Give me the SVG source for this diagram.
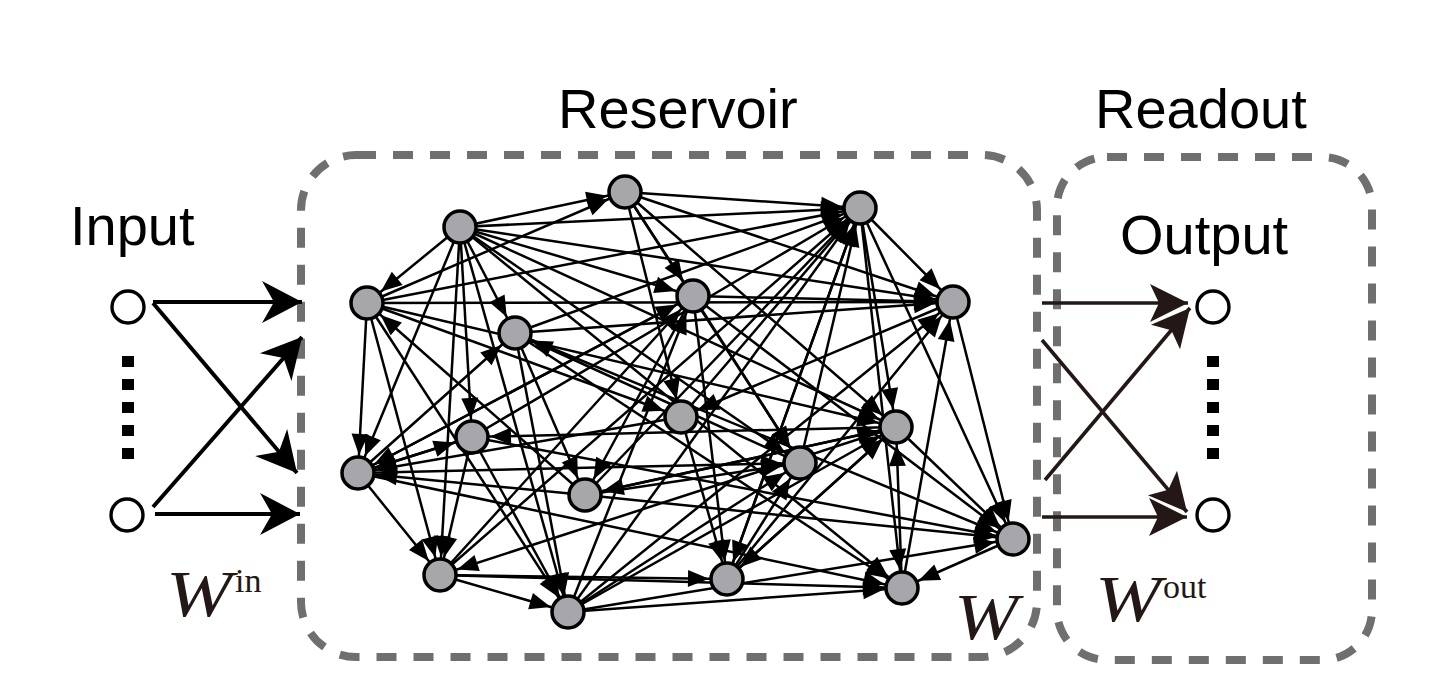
<svg xmlns="http://www.w3.org/2000/svg" width="1452" height="700" viewBox="0 0 1452 700">
<defs>
<marker id="ah" markerUnits="userSpaceOnUse" markerWidth="60" markerHeight="30" viewBox="-60 -15 60 30" refX="0" refY="0" orient="auto">
<path d="M-18,0 L-39,-8.5 L-39,8.5 Z" fill="#000"/>
</marker>
<marker id="big" markerUnits="userSpaceOnUse" markerWidth="50" markerHeight="50" viewBox="-45 -25 50 50" refX="0" refY="0" orient="auto">
<path d="M0,0 L-40,-21 L-28,0 L-40,21 Z" fill="#000"/>
</marker>
<marker id="bigo" markerUnits="userSpaceOnUse" markerWidth="50" markerHeight="50" viewBox="-45 -25 50 50" refX="0" refY="0" orient="auto">
<path d="M0,0 L-38,-19 L-29,0 L-38,19 Z" fill="#231815"/>
</marker>
</defs>
<style>
.box{fill:none;stroke:#6f6f6f;stroke-width:8;stroke-dasharray:20 17}
.e{stroke:#000;stroke-width:2.5;marker-end:url(#ah)}
.n{fill:#a7a6ab;stroke:#000;stroke-width:3.5}
.io{fill:#fff;stroke:#000;stroke-width:3.4}
.lbl{font-family:"Liberation Sans",Arial,sans-serif;font-size:56px;fill:#000}
.w{font-family:"Liberation Serif","Times New Roman",serif;font-style:italic;font-size:66px;fill:#231815}
.sup{font-family:"Liberation Serif","Times New Roman",serif;font-size:34px;fill:#231815}
.ia{stroke:#000;stroke-width:4;marker-end:url(#big)}
.oa{stroke:#231815;stroke-width:3.6;marker-end:url(#bigo)}
.dot{fill:#000}
</style>

<g id="frames">
<rect class="box" x="301" y="155" width="736" height="502" rx="55"/>
<rect class="box" x="1057" y="157" width="315" height="503" rx="50"/>
</g>

<g id="labels">
<text class="lbl" x="558" y="128">Reservoir</text>
<text class="lbl" x="1095" y="128">Readout</text>
<text class="lbl" x="70" y="245">Input</text>
<text class="lbl" x="1120" y="254">Output</text>
<text class="w" x="166" y="616" textLength="66" lengthAdjust="spacingAndGlyphs">W</text><text class="sup" x="235" y="592">in</text>
<text class="w" x="954" y="639" textLength="64" lengthAdjust="spacingAndGlyphs">W</text>
<text class="w" x="1095" y="621" textLength="66" lengthAdjust="spacingAndGlyphs">W</text><text class="sup" x="1163" y="598">out</text>
</g>

<g id="connectors">
<line class="ia" x1="153" y1="302" x2="302" y2="302"/>
<line class="ia" x1="153" y1="303" x2="297" y2="473"/>
<line class="ia" x1="153" y1="507" x2="302" y2="337"/>
<line class="ia" x1="155" y1="514" x2="300" y2="514"/>
<line class="oa" x1="1042" y1="303" x2="1188" y2="303"/>
<line class="oa" x1="1042" y1="340" x2="1187" y2="512"/>
<line class="oa" x1="1045" y1="480" x2="1190" y2="308"/>
<line class="oa" x1="1042" y1="517" x2="1187" y2="517"/>

<line class="e" x1="460" y1="227" x2="367" y2="303"/>
<line class="e" x1="460" y1="227" x2="625" y2="192"/>
<line class="e" x1="460" y1="227" x2="860" y2="208"/>
<line class="e" x1="460" y1="227" x2="515" y2="333"/>
<line class="e" x1="460" y1="227" x2="472" y2="437"/>
<line class="e" x1="460" y1="227" x2="693" y2="296"/>
<line class="e" x1="460" y1="227" x2="953" y2="302"/>
<line class="e" x1="460" y1="227" x2="896" y2="427"/>
<line class="e" x1="460" y1="227" x2="800" y2="463"/>
<line class="e" x1="460" y1="227" x2="902" y2="588"/>
<line class="e" x1="460" y1="227" x2="358" y2="473"/>
<line class="e" x1="460" y1="227" x2="440" y2="575"/>
<line class="e" x1="460" y1="227" x2="568" y2="612"/>
<line class="e" x1="625" y1="192" x2="860" y2="208"/>
<line class="e" x1="625" y1="192" x2="693" y2="296"/>
<line class="e" x1="625" y1="192" x2="953" y2="302"/>
<line class="e" x1="625" y1="192" x2="896" y2="427"/>
<line class="e" x1="625" y1="192" x2="800" y2="463"/>
<line class="e" x1="625" y1="192" x2="681" y2="417"/>
<line class="e" x1="860" y1="208" x2="953" y2="302"/>
<line class="e" x1="860" y1="208" x2="896" y2="427"/>
<line class="e" x1="860" y1="208" x2="1013" y2="539"/>
<line class="e" x1="860" y1="208" x2="902" y2="588"/>
<line class="e" x1="860" y1="208" x2="727" y2="579"/>
<line class="e" x1="367" y1="303" x2="358" y2="473"/>
<line class="e" x1="367" y1="303" x2="625" y2="192"/>
<line class="e" x1="367" y1="303" x2="860" y2="208"/>
<line class="e" x1="367" y1="303" x2="440" y2="575"/>
<line class="e" x1="367" y1="303" x2="568" y2="612"/>
<line class="e" x1="367" y1="303" x2="681" y2="417"/>
<line class="e" x1="367" y1="303" x2="896" y2="427"/>
<line class="e" x1="367" y1="303" x2="953" y2="302"/>
<line class="e" x1="693" y1="296" x2="953" y2="302"/>
<line class="e" x1="693" y1="296" x2="800" y2="463"/>
<line class="e" x1="693" y1="296" x2="1013" y2="539"/>
<line class="e" x1="693" y1="296" x2="585" y2="495"/>
<line class="e" x1="693" y1="296" x2="727" y2="579"/>
<line class="e" x1="693" y1="296" x2="358" y2="473"/>
<line class="e" x1="953" y1="302" x2="1013" y2="539"/>
<line class="e" x1="953" y1="302" x2="681" y2="417"/>
<line class="e" x1="902" y1="588" x2="953" y2="302"/>
<line class="e" x1="727" y1="579" x2="953" y2="302"/>
<line class="e" x1="515" y1="333" x2="860" y2="208"/>
<line class="e" x1="515" y1="333" x2="953" y2="302"/>
<line class="e" x1="515" y1="333" x2="568" y2="612"/>
<line class="e" x1="515" y1="333" x2="902" y2="588"/>
<line class="e" x1="515" y1="333" x2="1013" y2="539"/>
<line class="e" x1="515" y1="333" x2="585" y2="495"/>
<line class="e" x1="681" y1="417" x2="860" y2="208"/>
<line class="e" x1="681" y1="417" x2="358" y2="473"/>
<line class="e" x1="681" y1="417" x2="727" y2="579"/>
<line class="e" x1="896" y1="427" x2="472" y2="437"/>
<line class="e" x1="896" y1="427" x2="440" y2="575"/>
<line class="e" x1="896" y1="427" x2="585" y2="495"/>
<line class="e" x1="896" y1="427" x2="727" y2="579"/>
<line class="e" x1="896" y1="427" x2="1013" y2="539"/>
<line class="e" x1="472" y1="437" x2="358" y2="473"/>
<line class="e" x1="472" y1="437" x2="860" y2="208"/>
<line class="e" x1="472" y1="437" x2="440" y2="575"/>
<line class="e" x1="472" y1="437" x2="1013" y2="539"/>
<line class="e" x1="472" y1="437" x2="568" y2="612"/>
<line class="e" x1="358" y1="473" x2="472" y2="437"/>
<line class="e" x1="358" y1="473" x2="693" y2="296"/>
<line class="e" x1="358" y1="473" x2="800" y2="463"/>
<line class="e" x1="358" y1="473" x2="902" y2="588"/>
<line class="e" x1="358" y1="473" x2="440" y2="575"/>
<line class="e" x1="358" y1="473" x2="515" y2="333"/>
<line class="e" x1="800" y1="463" x2="515" y2="333"/>
<line class="e" x1="800" y1="463" x2="860" y2="208"/>
<line class="e" x1="585" y1="495" x2="367" y2="303"/>
<line class="e" x1="585" y1="495" x2="358" y2="473"/>
<line class="e" x1="585" y1="495" x2="860" y2="208"/>
<line class="e" x1="585" y1="495" x2="896" y2="427"/>
<line class="e" x1="585" y1="495" x2="800" y2="463"/>
<line class="e" x1="585" y1="495" x2="1013" y2="539"/>
<line class="e" x1="1013" y1="539" x2="902" y2="588"/>
<line class="e" x1="440" y1="575" x2="568" y2="612"/>
<line class="e" x1="440" y1="575" x2="860" y2="208"/>
<line class="e" x1="440" y1="575" x2="693" y2="296"/>
<line class="e" x1="440" y1="575" x2="902" y2="588"/>
<line class="e" x1="440" y1="575" x2="727" y2="579"/>
<line class="e" x1="727" y1="579" x2="896" y2="427"/>
<line class="e" x1="727" y1="579" x2="860" y2="208"/>
<line class="e" x1="727" y1="579" x2="800" y2="463"/>
<line class="e" x1="568" y1="612" x2="860" y2="208"/>
<line class="e" x1="568" y1="612" x2="693" y2="296"/>
<line class="e" x1="568" y1="612" x2="953" y2="302"/>
<line class="e" x1="568" y1="612" x2="902" y2="588"/>
<line class="e" x1="568" y1="612" x2="1013" y2="539"/>
<line class="e" x1="568" y1="612" x2="896" y2="427"/>
<line class="e" x1="568" y1="612" x2="800" y2="463"/>
<line class="e" x1="902" y1="588" x2="896" y2="427"/>
</g>

<g id="node-in1"><circle class="io" cx="128" cy="307" r="16"/></g>
<g id="node-in2"><circle class="io" cx="127" cy="515" r="16"/></g>
<g id="in-dots">
<rect class="dot" x="122" y="356" width="12" height="11"/>
<rect class="dot" x="122" y="379" width="12" height="11"/>
<rect class="dot" x="122" y="402" width="12" height="11"/>
<rect class="dot" x="122" y="425" width="12" height="11"/>
<rect class="dot" x="122" y="448" width="12" height="11"/>
</g>
<g id="node-out1"><circle class="io" cx="1213" cy="307" r="16"/></g>
<g id="node-out2"><circle class="io" cx="1213" cy="515" r="16"/></g>
<g id="out-dots">
<rect class="dot" x="1207" y="356" width="12" height="11"/>
<rect class="dot" x="1207" y="379" width="12" height="11"/>
<rect class="dot" x="1207" y="402" width="12" height="11"/>
<rect class="dot" x="1207" y="425" width="12" height="11"/>
<rect class="dot" x="1207" y="448" width="12" height="11"/>
</g>

<g id="node-A"><circle class="n" cx="460" cy="227" r="16"/></g>
<g id="node-B"><circle class="n" cx="625" cy="192" r="16"/></g>
<g id="node-C"><circle class="n" cx="860" cy="208" r="16"/></g>
<g id="node-D"><circle class="n" cx="367" cy="303" r="16"/></g>
<g id="node-E"><circle class="n" cx="693" cy="296" r="16"/></g>
<g id="node-F"><circle class="n" cx="953" cy="302" r="16"/></g>
<g id="node-G"><circle class="n" cx="515" cy="333" r="16"/></g>
<g id="node-H"><circle class="n" cx="681" cy="417" r="16"/></g>
<g id="node-I"><circle class="n" cx="472" cy="437" r="16"/></g>
<g id="node-J"><circle class="n" cx="896" cy="427" r="16"/></g>
<g id="node-K"><circle class="n" cx="358" cy="473" r="16"/></g>
<g id="node-L"><circle class="n" cx="800" cy="463" r="16"/></g>
<g id="node-M"><circle class="n" cx="585" cy="495" r="16"/></g>
<g id="node-N"><circle class="n" cx="1013" cy="539" r="16"/></g>
<g id="node-O"><circle class="n" cx="440" cy="575" r="16"/></g>
<g id="node-P"><circle class="n" cx="727" cy="579" r="16"/></g>
<g id="node-Q"><circle class="n" cx="568" cy="612" r="16"/></g>
<g id="node-R"><circle class="n" cx="902" cy="588" r="16"/></g>
</svg>
